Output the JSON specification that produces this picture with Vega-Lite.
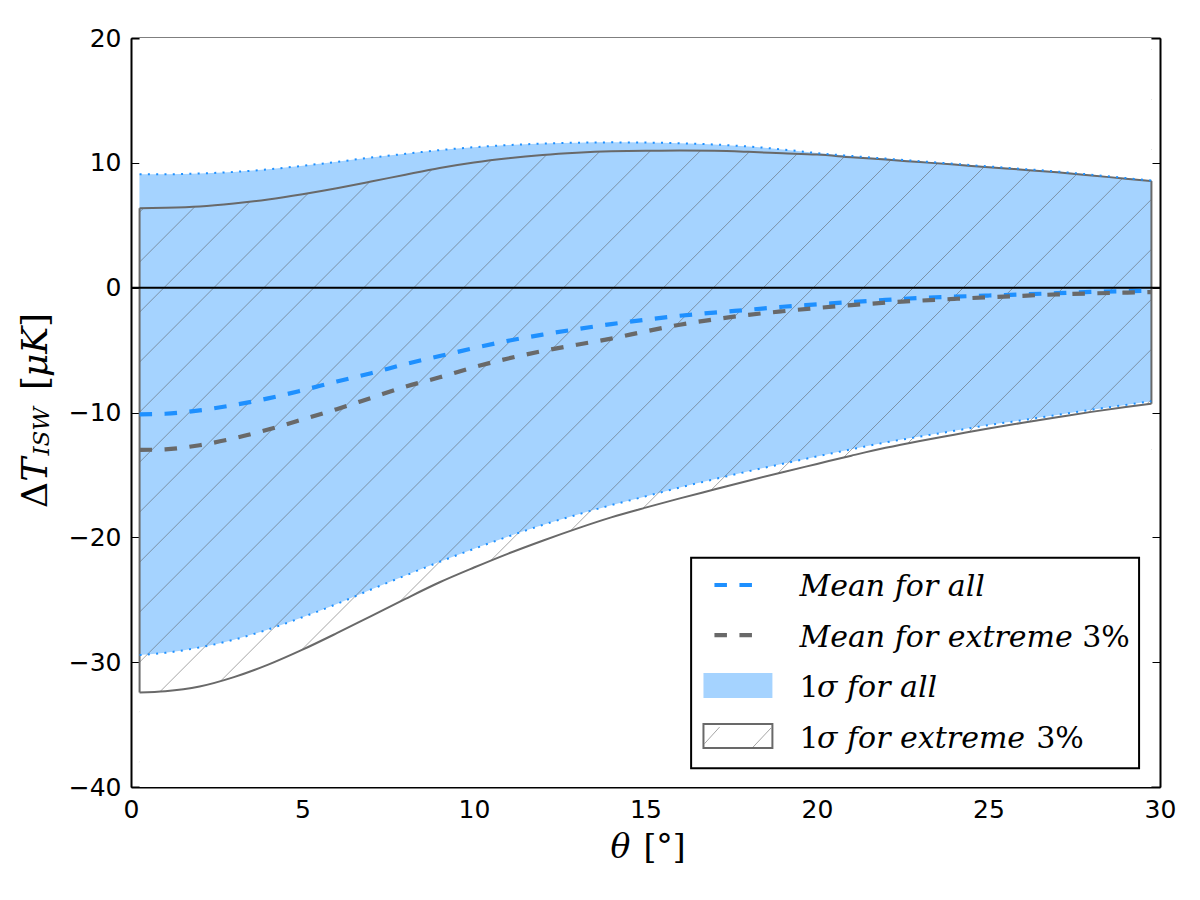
{
  "$schema": "https://vega.github.io/schema/vega-lite/v6.json",
  "width": 1029,
  "height": 749,
  "autosize": {"type": "none"},
  "padding": {"left": 131, "top": 38, "right": 40, "bottom": 113},
  "background": "white",
  "config": {
    "view": {"stroke": null},
    "axis": {
      "labelFont": "DejaVu Sans",
      "labelFontSize": 25,
      "labelColor": "black",
      "tickColor": "black",
      "tickWidth": 1,
      "tickSize": -8,
      "domainColor": "black",
      "domainWidth": 2,
      "grid": false,
      "labelPadding": 18,
      "labelFlush": false,
      "title": null,
      "zindex": 1
    }
  },
  "resolve": {"axis": {"x": "independent", "y": "independent"}},
  "datasets": {
    "curves": [
      {"theta": 0.25, "mean_all": -10.15, "mean_ext": -13.00, "lo_all": -29.43, "hi_all": 9.08, "lo_ext": -32.42, "hi_ext": 6.37},
      {"theta": 1, "mean_all": -10.10, "mean_ext": -12.95, "lo_all": -29.25, "hi_all": 9.08, "lo_ext": -32.33, "hi_ext": 6.40},
      {"theta": 2, "mean_all": -9.83, "mean_ext": -12.62, "lo_all": -28.82, "hi_all": 9.15, "lo_ext": -31.95, "hi_ext": 6.50},
      {"theta": 3, "mean_all": -9.40, "mean_ext": -12.07, "lo_all": -28.20, "hi_all": 9.27, "lo_ext": -31.20, "hi_ext": 6.74},
      {"theta": 4, "mean_all": -8.87, "mean_ext": -11.36, "lo_all": -27.38, "hi_all": 9.48, "lo_ext": -30.20, "hi_ext": 7.07},
      {"theta": 5, "mean_all": -8.22, "mean_ext": -10.56, "lo_all": -26.40, "hi_all": 9.76, "lo_ext": -29.00, "hi_ext": 7.49},
      {"theta": 6, "mean_all": -7.52, "mean_ext": -9.73, "lo_all": -25.34, "hi_all": 10.08, "lo_ext": -27.68, "hi_ext": 7.97},
      {"theta": 7, "mean_all": -6.85, "mean_ext": -8.83, "lo_all": -24.18, "hi_all": 10.42, "lo_ext": -26.31, "hi_ext": 8.50},
      {"theta": 8, "mean_all": -6.12, "mean_ext": -7.93, "lo_all": -23.06, "hi_all": 10.72, "lo_ext": -24.93, "hi_ext": 9.05},
      {"theta": 9, "mean_all": -5.48, "mean_ext": -7.18, "lo_all": -21.96, "hi_all": 11.02, "lo_ext": -23.60, "hi_ext": 9.58},
      {"theta": 10, "mean_all": -4.84, "mean_ext": -6.37, "lo_all": -20.92, "hi_all": 11.25, "lo_ext": -22.42, "hi_ext": 10.02},
      {"theta": 11, "mean_all": -4.25, "mean_ext": -5.67, "lo_all": -19.93, "hi_all": 11.42, "lo_ext": -21.30, "hi_ext": 10.36},
      {"theta": 12, "mean_all": -3.76, "mean_ext": -5.08, "lo_all": -19.01, "hi_all": 11.54, "lo_ext": -20.27, "hi_ext": 10.62},
      {"theta": 13, "mean_all": -3.32, "mean_ext": -4.57, "lo_all": -18.19, "hi_all": 11.61, "lo_ext": -19.30, "hi_ext": 10.80},
      {"theta": 14, "mean_all": -2.92, "mean_ext": -4.08, "lo_all": -17.42, "hi_all": 11.64, "lo_ext": -18.40, "hi_ext": 10.92},
      {"theta": 15, "mean_all": -2.57, "mean_ext": -3.50, "lo_all": -16.72, "hi_all": 11.62, "lo_ext": -17.62, "hi_ext": 10.97},
      {"theta": 16, "mean_all": -2.25, "mean_ext": -2.97, "lo_all": -16.01, "hi_all": 11.57, "lo_ext": -16.88, "hi_ext": 10.98},
      {"theta": 17, "mean_all": -2.00, "mean_ext": -2.54, "lo_all": -15.35, "hi_all": 11.47, "lo_ext": -16.17, "hi_ext": 10.96},
      {"theta": 18, "mean_all": -1.77, "mean_ext": -2.18, "lo_all": -14.71, "hi_all": 11.31, "lo_ext": -15.46, "hi_ext": 10.88},
      {"theta": 19, "mean_all": -1.53, "mean_ext": -1.89, "lo_all": -14.11, "hi_all": 11.07, "lo_ext": -14.78, "hi_ext": 10.77},
      {"theta": 20, "mean_all": -1.34, "mean_ext": -1.63, "lo_all": -13.52, "hi_all": 10.78, "lo_ext": -14.12, "hi_ext": 10.66},
      {"theta": 21, "mean_all": -1.15, "mean_ext": -1.40, "lo_all": -12.95, "hi_all": 10.55, "lo_ext": -13.46, "hi_ext": 10.45},
      {"theta": 22, "mean_all": -0.98, "mean_ext": -1.20, "lo_all": -12.40, "hi_all": 10.34, "lo_ext": -12.83, "hi_ext": 10.26},
      {"theta": 23, "mean_all": -0.82, "mean_ext": -1.04, "lo_all": -11.93, "hi_all": 10.13, "lo_ext": -12.28, "hi_ext": 10.06},
      {"theta": 24, "mean_all": -0.72, "mean_ext": -0.90, "lo_all": -11.47, "hi_all": 9.92, "lo_ext": -11.78, "hi_ext": 9.86},
      {"theta": 25, "mean_all": -0.63, "mean_ext": -0.77, "lo_all": -11.01, "hi_all": 9.71, "lo_ext": -11.28, "hi_ext": 9.65},
      {"theta": 26, "mean_all": -0.54, "mean_ext": -0.65, "lo_all": -10.61, "hi_all": 9.51, "lo_ext": -10.82, "hi_ext": 9.45},
      {"theta": 27, "mean_all": -0.44, "mean_ext": -0.54, "lo_all": -10.20, "hi_all": 9.30, "lo_ext": -10.38, "hi_ext": 9.24},
      {"theta": 28, "mean_all": -0.34, "mean_ext": -0.46, "lo_all": -9.78, "hi_all": 9.05, "lo_ext": -9.95, "hi_ext": 8.99},
      {"theta": 29, "mean_all": -0.28, "mean_ext": -0.40, "lo_all": -9.39, "hi_all": 8.78, "lo_ext": -9.56, "hi_ext": 8.73},
      {"theta": 29.75, "mean_all": -0.24, "mean_ext": -0.35, "lo_all": -9.10, "hi_all": 8.58, "lo_ext": -9.30, "hi_ext": 8.54}
    ],
    "hatch": [
      {"xa": 0.25, "ya": 6.05, "xb": 29.75, "yb": 87.18},
      {"xa": 0.25, "ya": 2.05, "xb": 29.75, "yb": 83.18},
      {"xa": 0.25, "ya": -1.96, "xb": 29.75, "yb": 79.17},
      {"xa": 0.25, "ya": -5.96, "xb": 29.75, "yb": 75.17},
      {"xa": 0.25, "ya": -9.97, "xb": 29.75, "yb": 71.16},
      {"xa": 0.25, "ya": -13.98, "xb": 29.75, "yb": 67.15},
      {"xa": 0.25, "ya": -17.98, "xb": 29.75, "yb": 63.15},
      {"xa": 0.25, "ya": -21.99, "xb": 29.75, "yb": 59.14},
      {"xa": 0.25, "ya": -25.99, "xb": 29.75, "yb": 55.14},
      {"xa": 0.25, "ya": -30.00, "xb": 29.75, "yb": 51.13},
      {"xa": 0.25, "ya": -34.00, "xb": 29.75, "yb": 47.13},
      {"xa": 0.25, "ya": -38.01, "xb": 29.75, "yb": 43.12},
      {"xa": 0.25, "ya": -42.01, "xb": 29.75, "yb": 39.12},
      {"xa": 0.25, "ya": -46.02, "xb": 29.75, "yb": 35.11},
      {"xa": 0.25, "ya": -50.02, "xb": 29.75, "yb": 31.11},
      {"xa": 0.25, "ya": -54.03, "xb": 29.75, "yb": 27.10},
      {"xa": 0.25, "ya": -58.04, "xb": 29.75, "yb": 23.09},
      {"xa": 0.25, "ya": -62.04, "xb": 29.75, "yb": 19.09},
      {"xa": 0.25, "ya": -66.05, "xb": 29.75, "yb": 15.08},
      {"xa": 0.25, "ya": -70.05, "xb": 29.75, "yb": 11.08},
      {"xa": 0.25, "ya": -74.06, "xb": 29.75, "yb": 7.07},
      {"xa": 0.25, "ya": -78.06, "xb": 29.75, "yb": 3.07},
      {"xa": 0.25, "ya": -82.07, "xb": 29.75, "yb": -0.94},
      {"xa": 0.25, "ya": -86.07, "xb": 29.75, "yb": -4.94},
      {"xa": 0.25, "ya": -90.08, "xb": 29.75, "yb": -8.95},
      {"xa": 0.25, "ya": -94.08, "xb": 29.75, "yb": -12.95}
    ]
  },
  "layer": [
    {
      "data": {"name": "curves"},
      "mark": {"type": "area", "fill": "#a5d3ff", "interpolate": "monotone"},
      "encoding": {
        "x": {"field": "theta", "type": "quantitative", "scale": {"domain": [0, 30], "nice": false},
              "axis": {"orient": "bottom", "values": [0, 5, 10, 15, 20, 25, 30], "format": "d"}},
        "y": {"field": "lo_all", "type": "quantitative", "scale": {"domain": [-40, 20], "nice": false, "zero": false},
              "axis": {"orient": "left", "values": [-40, -30, -20, -10, 0, 10, 20], "format": "d"}},
        "y2": {"field": "hi_all"}
      }
    },
    {
      "data": {"name": "hatch"},
      "mark": {"type": "rule", "clip": true, "stroke": "#5a5a5a", "strokeWidth": 0.55},
      "encoding": {
        "x": {"field": "xa", "type": "quantitative", "axis": null},
        "y": {"field": "ya", "type": "quantitative", "axis": null},
        "x2": {"field": "xb"},
        "y2": {"field": "yb"}
      }
    },
    {
      "data": {"name": "curves"},
      "mark": {"type": "area", "fill": "white", "interpolate": "monotone"},
      "encoding": {
        "x": {"field": "theta", "type": "quantitative", "axis": null},
        "y": {"field": "hi_ext", "type": "quantitative", "axis": null},
        "y2": {"datum": 20}
      }
    },
    {
      "data": {"name": "curves"},
      "mark": {"type": "area", "fill": "white", "interpolate": "monotone"},
      "encoding": {
        "x": {"field": "theta", "type": "quantitative", "axis": null},
        "y": {"field": "lo_ext", "type": "quantitative", "axis": null},
        "y2": {"datum": -40}
      }
    },
    {
      "data": {"name": "curves"},
      "mark": {"type": "area", "fill": "#a5d3ff", "interpolate": "monotone"},
      "encoding": {
        "x": {"field": "theta", "type": "quantitative", "axis": null},
        "y": {"field": "hi_ext", "type": "quantitative", "axis": null},
        "y2": {"field": "hi_all"}
      }
    },
    {
      "data": {"name": "curves"},
      "mark": {"type": "line", "stroke": "#696969", "strokeWidth": 2, "interpolate": "monotone"},
      "encoding": {
        "x": {"field": "theta", "type": "quantitative", "scale": {"domain": [0, 30], "nice": false},
              "axis": {"orient": "top", "labels": false, "values": [0, 5, 10, 15, 20, 25, 30]}},
        "y": {"field": "hi_ext", "type": "quantitative", "scale": {"domain": [-40, 20], "nice": false, "zero": false},
              "axis": {"orient": "right", "labels": false, "values": [-40, -30, -20, -10, 0, 10, 20]}}
      }
    },
    {
      "data": {"name": "curves"},
      "mark": {"type": "line", "stroke": "#696969", "strokeWidth": 2, "interpolate": "monotone"},
      "encoding": {
        "x": {"field": "theta", "type": "quantitative", "axis": null},
        "y": {"field": "lo_ext", "type": "quantitative", "axis": null}
      }
    },
    {
      "data": {"name": "curves"},
      "transform": [{"filter": "datum.theta == 0.25 || datum.theta == 29.75"}],
      "mark": {"type": "rule", "stroke": "#696969", "strokeWidth": 2},
      "encoding": {
        "x": {"field": "theta", "type": "quantitative", "axis": null},
        "y": {"field": "lo_ext", "type": "quantitative", "axis": null},
        "y2": {"field": "hi_ext"}
      }
    },
    {
      "data": {"name": "curves"},
      "mark": {"type": "line", "stroke": "#1e90ff", "strokeWidth": 2, "strokeDash": [2, 6.3], "interpolate": "monotone"},
      "encoding": {
        "x": {"field": "theta", "type": "quantitative", "axis": null},
        "y": {"field": "hi_all", "type": "quantitative", "axis": null}
      }
    },
    {
      "data": {"name": "curves"},
      "mark": {"type": "line", "stroke": "#1e90ff", "strokeWidth": 2, "strokeDash": [2, 6.3], "interpolate": "monotone"},
      "encoding": {
        "x": {"field": "theta", "type": "quantitative", "axis": null},
        "y": {"field": "lo_all", "type": "quantitative", "axis": null}
      }
    },
    {
      "data": {"values": [{}]},
      "mark": {"type": "rule", "stroke": "black", "strokeWidth": 2},
      "encoding": {
        "y": {"datum": 0, "type": "quantitative", "axis": null}
      }
    },
    {
      "data": {"name": "curves"},
      "mark": {"type": "line", "stroke": "#1e90ff", "strokeWidth": 4.2, "strokeDash": [12.5, 12.5], "strokeCap": "butt", "interpolate": "monotone"},
      "encoding": {
        "x": {"field": "theta", "type": "quantitative", "axis": null},
        "y": {"field": "mean_all", "type": "quantitative", "axis": null}
      }
    },
    {
      "data": {"name": "curves"},
      "mark": {"type": "line", "stroke": "#696969", "strokeWidth": 4.2, "strokeDash": [12.5, 12.5], "strokeCap": "butt", "interpolate": "monotone"},
      "encoding": {
        "x": {"field": "theta", "type": "quantitative", "axis": null},
        "y": {"field": "mean_ext", "type": "quantitative", "axis": null}
      }
    },
    {
      "data": {"values": [{}]},
      "mark": {"type": "rect", "fill": "white", "stroke": "black", "strokeWidth": 2},
      "encoding": {
        "x": {"datum": 16.33, "type": "quantitative", "axis": null},
        "x2": {"datum": 29.39},
        "y": {"datum": -21.63, "type": "quantitative", "axis": null},
        "y2": {"datum": -38.5}
      }
    },
    {
      "data": {"values": [{}]},
      "mark": {"type": "rule", "stroke": "#1e90ff", "strokeWidth": 4.2, "strokeDash": [12.5, 12.5], "strokeCap": "butt"},
      "encoding": {
        "x": {"datum": 17.01, "type": "quantitative", "axis": null},
        "x2": {"datum": 18.12},
        "y": {"datum": -23.82, "type": "quantitative", "axis": null}
      }
    },
    {
      "data": {"values": [{}]},
      "mark": {"type": "rule", "stroke": "#696969", "strokeWidth": 4.2, "strokeDash": [12.5, 12.5], "strokeCap": "butt"},
      "encoding": {
        "x": {"datum": 17.01, "type": "quantitative", "axis": null},
        "x2": {"datum": 18.12},
        "y": {"datum": -27.83, "type": "quantitative", "axis": null}
      }
    },
    {
      "data": {"values": [{}]},
      "mark": {"type": "rect", "fill": "#a5d3ff"},
      "encoding": {
        "x": {"datum": 16.69, "type": "quantitative", "axis": null},
        "x2": {"datum": 18.70},
        "y": {"datum": -30.87, "type": "quantitative", "axis": null},
        "y2": {"datum": -32.87}
      }
    },
    {
      "data": {"values": [{}]},
      "mark": {"type": "rect", "fill": "white", "stroke": "#696969", "strokeWidth": 2},
      "encoding": {
        "x": {"datum": 16.69, "type": "quantitative", "axis": null},
        "x2": {"datum": 18.70},
        "y": {"datum": -34.95, "type": "quantitative", "axis": null},
        "y2": {"datum": -36.88}
      }
    },
    {
      "data": {"values": [{}]},
      "mark": {"type": "rule", "stroke": "#5a5a5a", "strokeWidth": 0.55},
      "encoding": {
        "x": {"datum": 16.72, "type": "quantitative", "axis": null},
        "x2": {"datum": 17.16},
        "y": {"datum": -36.53, "type": "quantitative", "axis": null},
        "y2": {"datum": -35.20}
      }
    },
    {
      "data": {"values": [{}]},
      "mark": {"type": "rule", "stroke": "#5a5a5a", "strokeWidth": 0.55},
      "encoding": {
        "x": {"datum": 18.12, "type": "quantitative", "axis": null},
        "x2": {"datum": 18.66},
        "y": {"datum": -36.85, "type": "quantitative", "axis": null},
        "y2": {"datum": -35.27}
      }
    },
    {
      "data": {"values": [{}]},
      "mark": {"type": "text", "text": "Mean for all", "font": "DejaVu Serif", "fontStyle": "italic", "fontSize": 30, "align": "left", "baseline": "alphabetic"},
      "encoding": {
        "x": {"datum": 19.49, "type": "quantitative", "axis": null},
        "y": {"datum": -24.70, "type": "quantitative", "axis": null}
      }
    },
    {
      "data": {"values": [{}]},
      "mark": {"type": "text", "text": "Mean for extreme", "font": "DejaVu Serif", "fontStyle": "italic", "fontSize": 30, "align": "left", "baseline": "alphabetic"},
      "encoding": {
        "x": {"datum": 19.49, "type": "quantitative", "axis": null},
        "y": {"datum": -28.76, "type": "quantitative", "axis": null}
      }
    },
    {
      "data": {"values": [{}]},
      "mark": {"type": "text", "text": "3%", "font": "DejaVu Serif", "fontSize": 30, "align": "left", "baseline": "alphabetic"},
      "encoding": {
        "x": {"datum": 27.73, "type": "quantitative", "axis": null},
        "y": {"datum": -28.76, "type": "quantitative", "axis": null}
      }
    },
    {
      "data": {"values": [{}]},
      "mark": {"type": "text", "text": "1", "font": "DejaVu Serif", "fontSize": 30, "align": "left", "baseline": "alphabetic"},
      "encoding": {
        "x": {"datum": 19.49, "type": "quantitative", "axis": null},
        "y": {"datum": -32.77, "type": "quantitative", "axis": null}
      }
    },
    {
      "data": {"values": [{}]},
      "mark": {"type": "text", "text": "σ for all", "font": "DejaVu Serif", "fontStyle": "italic", "fontSize": 30, "align": "left", "baseline": "alphabetic"},
      "encoding": {
        "x": {"datum": 20.0, "type": "quantitative", "axis": null},
        "y": {"datum": -32.77, "type": "quantitative", "axis": null}
      }
    },
    {
      "data": {"values": [{}]},
      "mark": {"type": "text", "text": "1", "font": "DejaVu Serif", "fontSize": 30, "align": "left", "baseline": "alphabetic"},
      "encoding": {
        "x": {"datum": 19.49, "type": "quantitative", "axis": null},
        "y": {"datum": -36.85, "type": "quantitative", "axis": null}
      }
    },
    {
      "data": {"values": [{}]},
      "mark": {"type": "text", "text": "σ for extreme", "font": "DejaVu Serif", "fontStyle": "italic", "fontSize": 30, "align": "left", "baseline": "alphabetic"},
      "encoding": {
        "x": {"datum": 20.0, "type": "quantitative", "axis": null},
        "y": {"datum": -36.85, "type": "quantitative", "axis": null}
      }
    },
    {
      "data": {"values": [{}]},
      "mark": {"type": "text", "text": "3%", "font": "DejaVu Serif", "fontSize": 30, "align": "left", "baseline": "alphabetic"},
      "encoding": {
        "x": {"datum": 26.39, "type": "quantitative", "axis": null},
        "y": {"datum": -36.85, "type": "quantitative", "axis": null}
      }
    },
    {
      "data": {"values": [{}]},
      "mark": {"type": "text", "text": "θ", "font": "DejaVu Serif", "fontStyle": "italic", "fontSize": 33, "align": "left", "baseline": "alphabetic"},
      "encoding": {
        "x": {"datum": 13.98, "type": "quantitative", "axis": null},
        "y": {"datum": -45.69, "type": "quantitative", "axis": null}
      }
    },
    {
      "data": {"values": [{}]},
      "mark": {"type": "text", "text": "[°]", "font": "DejaVu Serif", "fontSize": 33, "align": "left", "baseline": "alphabetic"},
      "encoding": {
        "x": {"datum": 14.94, "type": "quantitative", "axis": null},
        "y": {"datum": -45.69, "type": "quantitative", "axis": null}
      }
    },
    {
      "data": {"values": [{}]},
      "mark": {"type": "text", "text": "Δ", "font": "DejaVu Serif", "fontSize": 36, "angle": 270, "align": "left", "baseline": "alphabetic"},
      "encoding": {
        "x": {"datum": -2.456, "type": "quantitative", "axis": null},
        "y": {"datum": -17.65, "type": "quantitative", "axis": null}
      }
    },
    {
      "data": {"values": [{}]},
      "mark": {"type": "text", "text": "T", "font": "DejaVu Serif", "fontStyle": "italic", "fontSize": 36, "angle": 270, "align": "left", "baseline": "alphabetic"},
      "encoding": {
        "x": {"datum": -2.456, "type": "quantitative", "axis": null},
        "y": {"datum": -15.55, "type": "quantitative", "axis": null}
      }
    },
    {
      "data": {"values": [{}]},
      "mark": {"type": "text", "text": "ISW", "font": "DejaVu Serif", "fontStyle": "italic", "fontSize": 23, "angle": 270, "align": "left", "baseline": "alphabetic"},
      "encoding": {
        "x": {"datum": -2.40, "type": "quantitative", "axis": null},
        "y": {"datum": -13.45, "type": "quantitative", "axis": null}
      }
    },
    {
      "data": {"values": [{}]},
      "mark": {"type": "text", "text": "[", "font": "DejaVu Serif", "fontSize": 36, "angle": 270, "align": "left", "baseline": "alphabetic"},
      "encoding": {
        "x": {"datum": -2.456, "type": "quantitative", "axis": null},
        "y": {"datum": -8.20, "type": "quantitative", "axis": null}
      }
    },
    {
      "data": {"values": [{}]},
      "mark": {"type": "text", "text": "μK", "font": "DejaVu Serif", "fontStyle": "italic", "fontSize": 36, "angle": 270, "align": "left", "baseline": "alphabetic"},
      "encoding": {
        "x": {"datum": -2.456, "type": "quantitative", "axis": null},
        "y": {"datum": -7.16, "type": "quantitative", "axis": null}
      }
    },
    {
      "data": {"values": [{}]},
      "mark": {"type": "text", "text": "]", "font": "DejaVu Serif", "fontSize": 36, "angle": 270, "align": "left", "baseline": "alphabetic"},
      "encoding": {
        "x": {"datum": -2.456, "type": "quantitative", "axis": null},
        "y": {"datum": -3.15, "type": "quantitative", "axis": null}
      }
    }
  ]
}
